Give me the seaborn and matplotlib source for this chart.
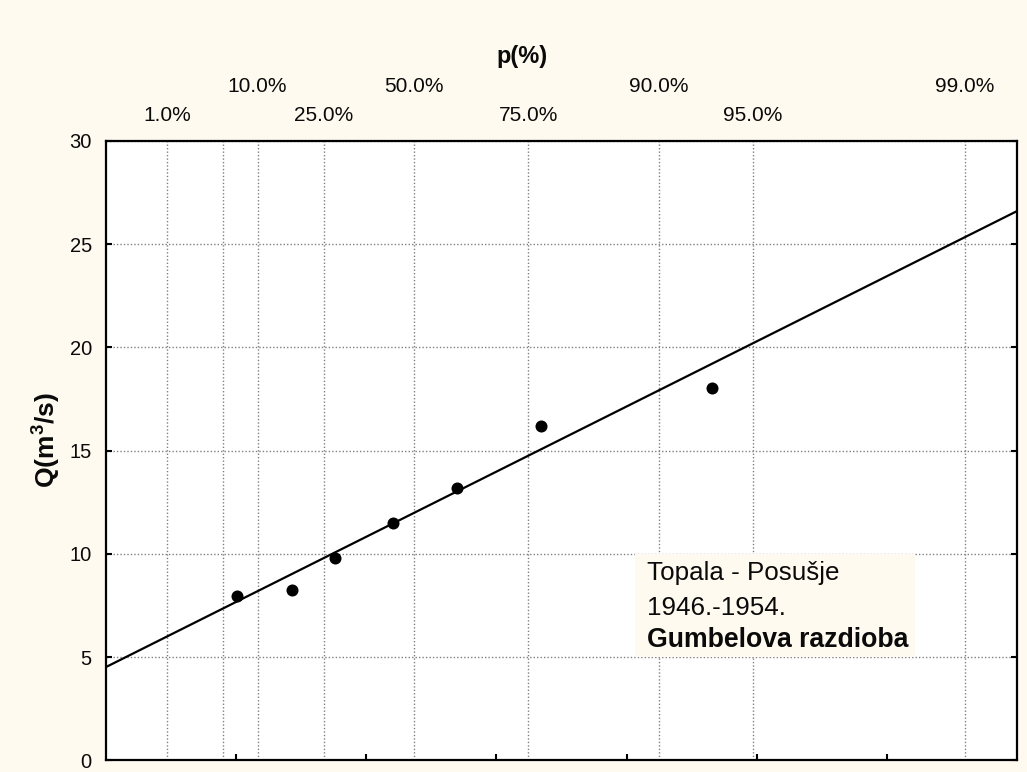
import numpy as np
import pandas as pd
import matplotlib
matplotlib.use("Agg")
import matplotlib.pyplot as plt
from matplotlib.patches import Rectangle
import seaborn as sns

# Observed annual discharges and their plotting positions (non-exceedance, %)
p_percent = [6.7, 17.2, 28.0, 44.2, 60.7, 77.0, 93.2]
q_values = [7.98, 8.26, 9.81, 11.49, 13.21, 16.20, 18.06]

# Fitted Gumbel distribution: Q = location + scale * y
gumbel_location = 10.83
gumbel_scale = 3.156

# Probability grid on the top axis
prob_ticks = [1, 5, 10, 25, 50, 75, 90, 95, 99]
prob_labels = ["1.0%", "", "10.0%", "25.0%", "50.0%", "75.0%", "90.0%", "95.0%", "99.0%"]
prob_rows = [0, 0, 1, 0, 1, 0, 1, 0, 1]

# Reduced-variate ticks on the bottom axis, discharge ticks on the left
reduced_ticks = [-1, 0, 1, 2, 3, 4]
q_ticks = [0, 5, 10, 15, 20, 25, 30]

info_lines = ["Topala - Posušje", "1946.-1954.", "Gumbelova razdioba"]


def reduced_variate(p):
    """Gumbel reduced variate for non-exceedance probability in percent."""
    return -np.log(-np.log(np.asarray(p, dtype=float) / 100.0))


sns.set_theme(style="white")
plt.rcParams["font.family"] = ["Liberation Sans", "DejaVu Sans"]
plt.rcParams["mathtext.fontset"] = "custom"
plt.rcParams["mathtext.bf"] = "Liberation Sans:bold"
plt.rcParams["mathtext.rm"] = "Liberation Sans"

bg = "#FFFAF0"
ink = "#0a0a0a"
fig = plt.figure(figsize=(10.27, 7.72), dpi=100, facecolor=bg)
ax = fig.add_axes([0.1029, 0.0149, 0.8876, 0.8025])
ax.set_facecolor("white")

x_min, x_max = -2.0, 5.0
obs = pd.DataFrame({"y": reduced_variate(p_percent), "Q": q_values})
fit_x = np.linspace(x_min, x_max, 60)
fit = pd.DataFrame({"y": fit_x, "Q": gumbel_location + gumbel_scale * fit_x})

sns.lineplot(data=fit, x="y", y="Q", ax=ax, color="black", linewidth=1.6, zorder=3)
sns.scatterplot(data=obs, x="y", y="Q", ax=ax, color="black", s=75,
                edgecolor="black", linewidth=0, zorder=4)

ax.set_xlim(x_min, x_max)
ax.set_ylim(0, 30)
ax.set_xlabel("")
ax.set_ylabel("")

# Bottom ticks: reduced variate, unlabeled; minor ticks carry the probability grid
ax.set_xticks(reduced_ticks)
ax.set_xticks(reduced_variate(prob_ticks), minor=True)
ax.tick_params(axis="x", which="major", direction="in", length=4, width=1.5,
               bottom=True, top=False, labelbottom=False, color="black")
ax.tick_params(axis="x", which="minor", length=0, bottom=False, top=False)

ax.set_yticks(q_ticks)
ax.tick_params(axis="y", direction="in", length=4, width=1.5, left=True, right=True,
               labelsize=14.5, pad=10, labelcolor=ink, color="black")

grid_kw = dict(color="#808080", linestyle=(0, (1, 1.5)), linewidth=1.0)
ax.grid(True, axis="y", which="major", **grid_kw)
ax.grid(True, axis="x", which="minor", **grid_kw)
ax.grid(False, axis="x", which="major")
ax.set_axisbelow(True)

for spine in ax.spines.values():
    spine.set_color("black")
    spine.set_linewidth(1.6)

# Staggered probability labels above the plot
row_offsets = {0: 18, 1: 39}
for p, lab, row in zip(prob_ticks, prob_labels, prob_rows):
    if not lab:
        continue
    ax.annotate(lab, xy=(reduced_variate(p), 1.0), xycoords=("data", "axes fraction"),
                xytext=(0, row_offsets[row]), textcoords="offset points",
                ha="center", va="center", fontsize=15, color=ink,
                annotation_clip=False)

fig.text(0.508, 0.9266, "p(%)", ha="center", va="center", fontsize=17,
         fontweight="bold", color=ink)
fig.text(0.0448, 0.43, r"Q(m$^{\mathbf{3}}$/s)", ha="center", va="center",
         rotation=90, fontsize=19, fontweight="bold", color=ink)

# Station info box
ax.add_patch(Rectangle((0.5806, 1 / 6), 0.3072, 1 / 6, transform=ax.transAxes,
                       facecolor=bg, edgecolor="none", zorder=5))
line_y = [0.3026, 0.2461, 0.1945]
line_size = [18.7, 18.7, 19.2]
for txt, yy, weight, fs in zip(info_lines, line_y, ["normal", "normal", "bold"], line_size):
    ax.text(0.5935, yy, txt, transform=ax.transAxes, ha="left", va="center",
            fontsize=fs, fontweight=weight, color=ink, zorder=6)

fig.savefig("out.png", dpi=100, facecolor=bg)
